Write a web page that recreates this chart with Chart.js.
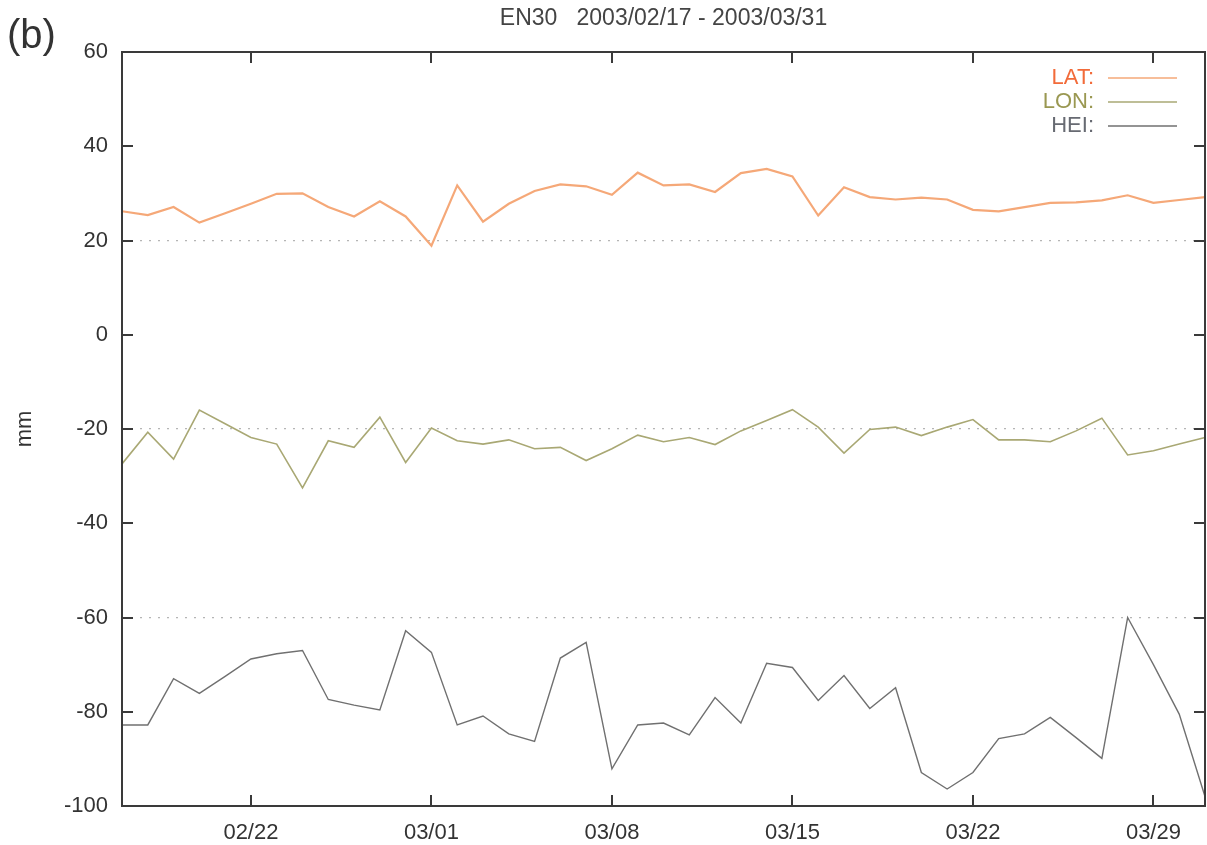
<!DOCTYPE html>
<html>
<head>
<meta charset="utf-8">
<script src="https://cdn.jsdelivr.net/npm/chart.js@4"></script>
<style>
  html, body { margin: 0; padding: 0; background: #fff; }
  #wrap { width: 1207px; height: 845px; }
</style>
</head>
<body>
<div id="wrap"><canvas id="chart"></canvas></div>
<script>
// days of the observation window
const dates = [
  '02/17', '02/18', '02/19', '02/20', '02/21', '02/22', '02/23', '02/24', '02/25', '02/26', '02/27', '02/28',
  '03/01', '03/02', '03/03', '03/04', '03/05', '03/06', '03/07', '03/08', '03/09', '03/10', '03/11', '03/12',
  '03/13', '03/14', '03/15', '03/16', '03/17', '03/18', '03/19', '03/20', '03/21', '03/22', '03/23', '03/24',
  '03/25', '03/26', '03/27', '03/28', '03/29', '03/30', '03/31'
];
const xTickLabels = ['02/22', '03/01', '03/08', '03/15', '03/22', '03/29'];

// daily coordinates, mm
const lat = [
  26.2, 25.4, 27.1, 23.8, 25.8, 27.8, 29.9, 30.0, 27.1, 25.1, 28.3, 25.1,
  18.9, 31.7, 24.0, 27.8, 30.5, 31.9, 31.5, 29.7, 34.4, 31.7, 31.9, 30.3,
  34.3, 35.2, 33.6, 25.3, 31.3, 29.2, 28.7, 29.1, 28.7, 26.5, 26.2, 27.1,
  28.0, 28.1, 28.5, 29.6, 28.0, 28.6, 29.2
];
const lon = [
  -27.4, -20.7, -26.4, -16.0, -18.9, -21.8, -23.2, -32.5, -22.5, -23.9, -17.5, -27.1,
  -19.8, -22.5, -23.2, -22.3, -24.2, -23.9, -26.7, -24.2, -21.3, -22.7, -21.8, -23.3,
  -20.4, -18.2, -15.9, -19.6, -25.1, -20.1, -19.6, -21.4, -19.6, -18.0, -22.3, -22.3,
  -22.7, -20.4, -17.7, -25.5, -24.6, -23.2, -21.8
];
const hei = [
  -82.8, -82.8, -73.0, -76.1, -72.5, -68.8, -67.7, -67.0, -77.4, -78.6, -79.6, -62.8,
  -67.4, -82.8, -80.9, -84.7, -86.3, -68.6, -65.3, -92.1, -82.8, -82.4, -84.9, -77.0,
  -82.4, -69.7, -70.6, -77.6, -72.3, -79.3, -74.9, -92.9, -96.4, -92.9, -85.7, -84.7,
  -81.2, -85.5, -89.9, -60.0, -70.0, -80.5, -98.0
];

const FONT = "'Liberation Sans', Arial, sans-serif";

// gnuplot-like frame, inward ticks, "(b)" tag and key
const framePlugin = {
  id: 'frame',
  afterDatasetsDraw(chart) {
    const ctx = chart.ctx;
    const a = chart.chartArea;
    const xs = chart.scales.x, ys = chart.scales.y;
    const tl = 11;
    ctx.save();
    ctx.strokeStyle = '#3a3a3a';
    ctx.lineWidth = 2;
    ctx.strokeRect(a.left, a.top, a.right - a.left, a.bottom - a.top);

    ctx.beginPath();
    xTickLabels.forEach(lbl => {
      const px = Math.round(xs.getPixelForValue(dates.indexOf(lbl)));
      ctx.moveTo(px, a.bottom); ctx.lineTo(px, a.bottom - tl);
      ctx.moveTo(px, a.top); ctx.lineTo(px, a.top + tl);
    });
    ys.ticks.forEach(t => {
      const py = Math.round(ys.getPixelForValue(t.value));
      ctx.moveTo(a.left, py); ctx.lineTo(a.left + tl, py);
      ctx.moveTo(a.right, py); ctx.lineTo(a.right - tl, py);
    });
    ctx.stroke();

    // key, top right
    ctx.font = '22px ' + FONT;
    ctx.textAlign = 'right';
    ctx.textBaseline = 'middle';
    chart.data.datasets.forEach((ds, i) => {
      const y = 78 + i * 24;
      ctx.fillStyle = ds.keyColor;
      ctx.fillText(ds.label + ':', 1094, y);
      ctx.strokeStyle = ds.borderColor;
      ctx.lineWidth = 1.5;
      ctx.beginPath();
      ctx.moveTo(1108, y); ctx.lineTo(1177, y);
      ctx.stroke();
    });

    ctx.fillStyle = '#333';
    ctx.textAlign = 'left';
    ctx.textBaseline = 'alphabetic';
    ctx.font = '40px ' + FONT;
    ctx.fillText('(b)', 7, 48);
    ctx.restore();
  }
};

new Chart(document.getElementById('chart'), {
  type: 'line',
  data: {
    labels: dates,
    datasets: [
      { label: 'LAT', data: lat, borderColor: '#f5a878', keyColor: '#f26b3a', borderWidth: 2.2 },
      { label: 'LON', data: lon, borderColor: '#a9a874', keyColor: '#9a9852', borderWidth: 1.6 },
      { label: 'HEI', data: hei, borderColor: '#707070', keyColor: '#676a72', borderWidth: 1.4 }
    ]
  },
  options: {
    responsive: true,
    maintainAspectRatio: false,
    animation: false,
    elements: { point: { radius: 0 }, line: { tension: 0 } },
    layout: { padding: { left: 0, right: 2, top: 0, bottom: 0 } },
    plugins: {
      legend: { display: false },
      tooltip: { enabled: false },
      title: {
        display: true,
        fullSize: false,
        text: 'EN30   2003/02/17 - 2003/03/31',
        color: '#444',
        font: { family: FONT, size: 23, weight: 'normal' },
        padding: { top: 5, bottom: 19.4 }
      }
    },
    scales: {
      x: {
        type: 'category',
        offset: false,
        grid: { display: false },
        border: { display: false },
        ticks: {
          autoSkip: false,
          maxRotation: 0,
          padding: 6,
          color: '#333',
          font: { family: FONT, size: 22 },
          callback(v, i) {
            const lbl = dates[i];
            return xTickLabels.includes(lbl) ? lbl : null;
          }
        },
        afterFit(scale) { scale.height = 39; }
      },
      y: {
        min: -100,
        max: 60,
        grid: {
          drawTicks: false,
          lineWidth: 1.2,
          color(c) {
            const v = c.tick.value;
            return (v === 20 || v === -20 || v === -60) ? '#b5b5b5' : 'rgba(0,0,0,0)';
          }
        },
        border: { display: false, dash: [2, 7] },
        title: {
          display: true,
          text: 'mm',
          color: '#333',
          font: { family: FONT, size: 22 },
          padding: { top: 12, bottom: 0 }
        },
        ticks: {
          stepSize: 20,
          padding: 14,
          color: '#333',
          font: { family: FONT, size: 22 }
        },
        afterFit(scale) { scale.width = 122; }
      }
    }
  },
  plugins: [framePlugin]
});
</script>
</body>
</html>
